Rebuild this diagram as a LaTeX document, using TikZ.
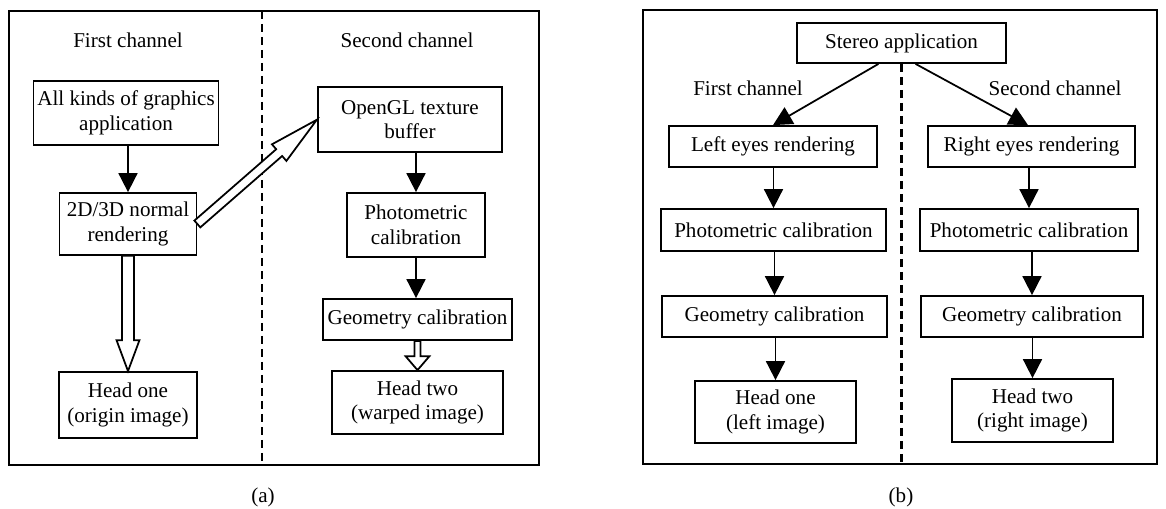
\documentclass[tikz,border=0pt]{standalone}
\usepackage{fontspec}
\setmainfont{Liberation Serif}
\usetikzlibrary{arrows.meta,calc}

\tikzset{
	box/.style={draw, line width=1pt, align=center, inner sep=0pt},
	arr/.style={line width=1pt, -{Triangle[width=0.38cm,length=0.38cm]}},
	divider/.style={line width=1.4pt, dash pattern=on 0.17cm off 0.09cm},
}

% hollow block arrow: from, to, half shaft, half head, head length
\newcommand{\blockarrow}[5]{%
	\draw[line width=1pt, fill=white] let \p1=(#1), \p2=(#2),
		\n1={atan2(\y2-\y1,\x2-\x1)}, \n2={veclen(\x2-\x1,\y2-\y1)} in
		[shift={(\p1)}, rotate=\n1]
		(0pt,-#3) -- ({\n2-#5},-#3) -- ({\n2-#5},-#4) -- (\n2,0pt)
		-- ({\n2-#5},#4) -- ({\n2-#5},#3) -- (0pt,#3) -- cycle;}

\begin{document}
\begin{tikzpicture}[every node/.style={font=\fontsize{12}{14}\selectfont}, x=0.02cm, y=-0.02cm]
	\useasboundingbox (0,0) rectangle (1166,509);
	% (a) one application, two heads
	\draw[line width=1pt] (9,11) rectangle (539,465);
	\draw[divider] (262,11) -- (262,465);
	\node (firsta) at (128,40) {First channel};
	\node (seconda) at (407,40) {Second channel};
	\node[box, minimum width=3.7cm, minimum height=1.28cm] (app) at (126,113) {All kinds of graphics\\application};
	\node[box, minimum width=2.74cm, minimum height=1.24cm] (render) at (128,224) {2D/3D normal\\rendering};
	\node[box, minimum width=2.76cm, minimum height=1.32cm] (headone) at (128,405) {Head one\\(origin image)};
	\node[box, minimum width=3.68cm, minimum height=1.3cm] (opengl) at (410,119.5) {OpenGL texture\\buffer};
	\node[box, minimum width=2.76cm, minimum height=1.28cm] (photo) at (416,225) {Photometric\\calibration};
	\node[box, minimum width=3.78cm, minimum height=0.82cm] (geom) at (417.5,319.5) {Geometry calibration};
	\node[box, minimum width=3.42cm, minimum height=1.26cm] (headtwo) at (417.5,402.5) {Head two\\(warped image)};
	\draw[arr] (render.north |- app.south) -- (render.north);
	\draw[arr] (photo.north |- opengl.south) -- (photo.north);
	\draw[arr] (photo.south) -- (photo.south |- geom.north);
	\blockarrow{render.south}{headone.north}{0.12cm}{0.23cm}{0.62cm}
	\blockarrow{render.east}{opengl.west}{0.09cm}{0.22cm}{1.0cm}
	\blockarrow{geom.south}{headtwo.north}{0.06cm}{0.24cm}{0.28cm}
	\node (capa) at (263,497) {(a)};

	% (b) stereo application
	\draw[line width=1pt] (643,10) rectangle (1157,464);
	\node[box, minimum width=4.18cm, minimum height=0.8cm] (stereo) at (901.5,43) {Stereo application};
	\draw[divider] (stereo.south) -- (stereo.south |- 0,464);
	\node (firstb) at (748,88) {First channel};
	\node (secondb) at (1055,88) {Second channel};
	\node[box, minimum width=4.16cm, minimum height=0.82cm] (leye) at (773,146.5) {Left eyes rendering};
	\node[box, minimum width=4.14cm, minimum height=0.82cm] (reye) at (1031.5,146.5) {Right eyes rendering};
	\node[box, minimum width=4.5cm, minimum height=0.84cm] (lphoto) at (773.5,230) {Photometric calibration};
	\node[box, minimum width=4.36cm, minimum height=0.84cm] (rphoto) at (1029,230) {Photometric calibration};
	\node[box, minimum width=4.5cm, minimum height=0.82cm] (lgeom) at (774.5,316.5) {Geometry calibration};
	\node[box, minimum width=4.44cm, minimum height=0.82cm] (rgeom) at (1032,316.5) {Geometry calibration};
	\node[box, minimum width=3.22cm, minimum height=1.24cm] (lhead) at (775.5,412) {Head one\\(left image)};
	\node[box, minimum width=3.22cm, minimum height=1.26cm] (rhead) at (1032.5,410.5) {Head two\\(right image)};
	\draw[arr] ([xshift=-0.46cm]stereo.south) -- (leye.north);
	\draw[arr] ([xshift=0.28cm]stereo.south) -- ([xshift=-0.07cm]reye.north);
	\foreach \a/\b in {leye/lphoto, lphoto/lgeom, lgeom/lhead, reye/rphoto, rphoto/rgeom, rgeom/rhead} {
		\draw[arr] (\b.north |- \a.south) -- (\b.north);
	}
	\node (capb) at (901,497) {(b)};
\end{tikzpicture}
\end{document}
